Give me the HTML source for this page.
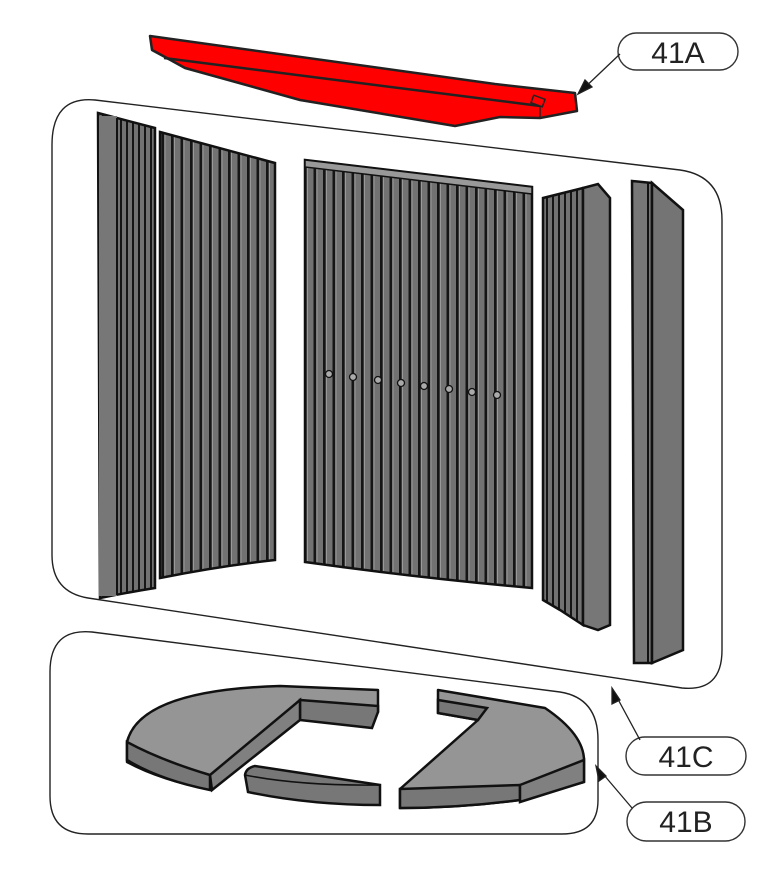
<!DOCTYPE html>
<html><head><style>html,body{margin:0;padding:0;background:#fff;}svg{display:block}</style></head>
<body>
<svg width="778" height="886" viewBox="0 0 778 886" xmlns="http://www.w3.org/2000/svg" font-family="Liberation Sans, sans-serif">
<defs>
<pattern id="rib" patternUnits="userSpaceOnUse" width="9.5" height="10">
<rect width="9.5" height="10" fill="#727272"/>
<rect x="0" width="2.8" height="10" fill="#151515"/>
<rect x="2.8" width="1.2" height="10" fill="#999"/>
</pattern>
<pattern id="ribn" patternUnits="userSpaceOnUse" width="6" height="10">
<rect width="6" height="10" fill="#727272"/>
<rect x="0" width="2" height="10" fill="#151515"/>
</pattern>
</defs>

<path d="M95,100 L680,170 Q722,176 722,220 L722,650 Q722,692 682,688 L88,598 Q52,592 52,555 L52,145 Q52,96 95,100 Z" fill="none" stroke="#222" stroke-width="1.4"/>
<path d="M92,632 L560,692 Q598,698 598,740 L598,800 Q598,834 562,834 L88,834 Q50,834 50,796 L50,672 Q50,628 92,632 Z" fill="none" stroke="#222" stroke-width="1.4"/>

<polygon points="150,36 495,84 575,93 577,111 540,118 500,117 455,126 300,100 185,68 165,57 152,50" fill="#ff0000" stroke="#222" stroke-width="2.5" stroke-linejoin="round"/>
<line x1="164" y1="58" x2="540" y2="106" stroke="#222" stroke-width="2.5"/>
<line x1="540" y1="100" x2="540" y2="118" stroke="#222" stroke-width="1.5"/>
<rect x="532" y="97" width="12" height="8" fill="#ff0000" stroke="#222" stroke-width="1.5" transform="rotate(20 538 101)"/>

<path d="M98,113 L155,128 L155,588 Q130,592 100,598 Z" fill="url(#ribn)" stroke="#111" stroke-width="2.5"/>
<rect x="99" y="116" width="18" height="480" fill="#777"/>
<line x1="117" y1="118" x2="117" y2="595" stroke="#111" stroke-width="2"/>
<path d="M160,132 L275,163 L275,560 Q220,566 160,578 Z" fill="url(#rib)" stroke="#111" stroke-width="2.5"/>
<path d="M305,160 L532,187 L532,588 Q420,578 305,562 Z" fill="url(#rib)" stroke="#111" stroke-width="2.5"/>
<path d="M305,160 L532,187 L532,194 L305,167 Z" fill="#999" stroke="#111" stroke-width="1.5"/>
<g fill="#aaa" stroke="#111" stroke-width="1.3">
<circle cx="329" cy="374" r="3.5"/><circle cx="353" cy="377" r="3.5"/><circle cx="378" cy="380" r="3.5"/><circle cx="401" cy="383" r="3.5"/><circle cx="424" cy="386" r="3.5"/><circle cx="449" cy="389" r="3.5"/><circle cx="472" cy="392" r="3.5"/><circle cx="497" cy="395" r="3.5"/>
</g>
<path d="M543,198 L583,188 L583,625 L560,610 L543,600 Z" fill="url(#ribn)" stroke="#111" stroke-width="2.5"/>
<path d="M583,188 L598,184 L610,198 L610,625 L598,630 L583,625 Z" fill="#777" stroke="#111" stroke-width="2.5"/>
<path d="M632,181 L652,183 L652,663 L634,663 Z" fill="#777" stroke="#111" stroke-width="2.5"/>
<line x1="648" y1="183" x2="648" y2="663" stroke="#111" stroke-width="2"/>
<path d="M652,183 L683,210 L683,650 L652,663 Z" fill="#747474" stroke="#111" stroke-width="2.5"/>

<path d="M127,742 Q140,690 280,686 L378,690 L378,712 L300,700 L212,780 L212,790 Q160,780 127,762 Z" fill="#959595" stroke="#111" stroke-width="2.5" stroke-linejoin="round"/>
<path d="M300,700 L378,706 L378,712 L372,728 L300,720 Z" fill="#777" stroke="#111" stroke-width="2.5"/>
<path d="M127,742 Q160,760 210,775 L210,790 Q160,780 127,760 Z" fill="#777" stroke="#111" stroke-width="2.5"/>
<path d="M210,775 L300,700 L300,720 L212,790 Z" fill="#808080" stroke="#111" stroke-width="2.5"/>
<path d="M245,775 Q246,768 255,766 L380,785 L380,805 Q310,805 248,792 Z" fill="#777" stroke="#111" stroke-width="2.5"/>
<path d="M245,775 Q300,786 380,785" fill="none" stroke="#111" stroke-width="1.5"/>
<path d="M438,713 L438,690 L545,708 Q585,735 584,762 L584,782 L520,800 Q460,808 400,808 L400,789 L478,720 Z" fill="#959595" stroke="#111" stroke-width="2.5" stroke-linejoin="round"/>
<path d="M438,713 L478,720 L487,708 L438,700 Z" fill="#777" stroke="#111" stroke-width="2.5"/>
<path d="M400,789 L520,785 L520,800 Q460,808 400,808 Z" fill="#777" stroke="#111" stroke-width="2.5"/>
<path d="M520,785 L584,760 L584,782 L520,802 Z" fill="#808080" stroke="#111" stroke-width="2.5"/>

<g fill="#fff" stroke="#333" stroke-width="1.4">
<rect x="618" y="33" width="120" height="37" rx="18.5"/>
<rect x="626" y="737" width="120" height="38" rx="19"/>
<rect x="627" y="802" width="118" height="39" rx="19.5"/>
</g>
<g font-size="30" fill="#222" text-anchor="middle">
<text x="678" y="63">41A</text>
<text x="686" y="767">41C</text>
<text x="686" y="832">41B</text>
</g>
<g stroke="#222" stroke-width="1.3" fill="#111">
<line x1="620" y1="54" x2="580" y2="92"/>
<polygon points="578,94 585,80 592,87"/>
<line x1="640" y1="740" x2="613" y2="690"/>
<polygon points="612,688 612,704 620,700"/>
<line x1="632" y1="808" x2="598" y2="768"/>
<polygon points="596,766 599,781 606,776"/>
</g>
</svg>
</body></html>
